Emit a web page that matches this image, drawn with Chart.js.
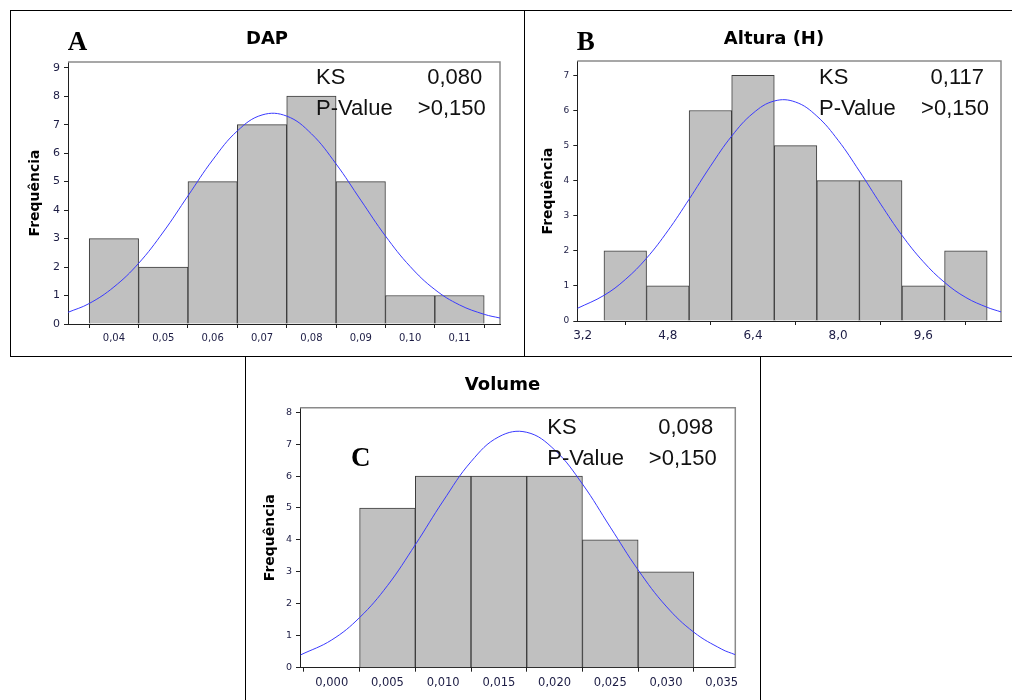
<!DOCTYPE html>
<html>
<head>
<meta charset="utf-8">
<title>Histogramas DAP, Altura e Volume</title>
<script src="https://cdn.jsdelivr.net/npm/chart.js@4.4.0/dist/chart.umd.min.js"></script>
<style>
  body { margin: 0; background: #fff; width: 1012px; height: 700px; overflow: hidden; position: relative; }
  .box { position: absolute; border: 1px solid #000; box-sizing: border-box; }
  canvas { position: absolute; }
</style>
</head>
<body>
<div class="box" style="left:10px;top:10px;width:515px;height:347px"></div>
<div class="box" style="left:524px;top:10px;width:500px;height:347px"></div>
<div class="box" style="left:245px;top:356px;width:516px;height:360px"></div>
<canvas id="histDAP" width="512" height="344" style="left:11px;top:11px"></canvas>
<canvas id="histAltura" width="498" height="344" style="left:525px;top:11px"></canvas>
<canvas id="histVolume" width="513" height="343" style="left:246px;top:357px"></canvas>
<script>
// A - DAP
const dapBins = [0.04, 0.05, 0.06, 0.07, 0.08, 0.09, 0.10, 0.11];
const dapCounts = [3, 2, 5, 7, 8, 5, 1, 1];
const dapCurveX = [0.0307, 0.035, 0.040, 0.045, 0.050, 0.055, 0.060, 0.065, 0.070, 0.075, 0.080, 0.085, 0.090, 0.095, 0.100, 0.105, 0.110, 0.115, 0.1182];
const dapCurveY = [0.41, 0.72, 1.30, 2.13, 3.23, 4.50, 5.76, 6.78, 7.34, 7.30, 6.68, 5.62, 4.35, 3.09, 2.02, 1.21, 0.67, 0.34, 0.21];
const dapXTicks = [0.04, 0.05, 0.06, 0.07, 0.08, 0.09, 0.10, 0.11];
const dapYTicks = [0, 1, 2, 3, 4, 5, 6, 7, 8, 9];
const dapStats = ['0,080', '>0,150'];

// B - Altura (H)
const alturaBins = [4.0, 4.8, 5.6, 6.4, 7.2, 8.0, 8.8, 9.6, 10.4];
const alturaCounts = [2, 1, 6, 7, 5, 4, 4, 1, 2];
const alturaCurveX = [3.1, 3.6, 4.0, 4.4, 4.8, 5.2, 5.6, 6.0, 6.4, 6.8, 7.2, 7.6, 8.0, 8.4, 8.8, 9.2, 9.6, 10.0, 10.4, 10.8, 11.06];
const alturaCurveY = [0.36, 0.73, 1.18, 1.79, 2.57, 3.47, 4.41, 5.27, 5.92, 6.27, 6.24, 5.84, 5.15, 4.27, 3.33, 2.44, 1.69, 1.10, 0.67, 0.39, 0.26];
const alturaXTicks = [3.2, 4.8, 6.4, 8.0, 9.6];
const alturaYTicks = [0, 1, 2, 3, 4, 5, 6, 7];
const alturaStats = ['0,117', '>0,150'];

// C - Volume
const volumeBins = [0.005, 0.010, 0.015, 0.020, 0.025, 0.030];
const volumeCounts = [5, 6, 6, 6, 4, 3];
const volumeCurveX = [-0.0028, 0.000, 0.0025, 0.005, 0.0075, 0.010, 0.0125, 0.015, 0.0175, 0.020, 0.0225, 0.025, 0.0275, 0.030, 0.0325, 0.035, 0.0362];
const volumeCurveY = [0.40, 0.87, 1.57, 2.57, 3.85, 5.22, 6.45, 7.23, 7.37, 6.82, 5.75, 4.40, 3.06, 1.93, 1.11, 0.58, 0.41];
const volumeXTicks = [0.000, 0.005, 0.010, 0.015, 0.020, 0.025, 0.030, 0.035];
const volumeYTicks = [0, 1, 2, 3, 4, 5, 6, 7, 8];
const volumeStats = ['0,098', '>0,150'];

const tickColor = '#1c1c44';
const axisColor = '#202020';

function histogram(id, o) {
    // gray frame on top and right of the plot area
    const frame = {
        id: 'frame',
        beforeDatasetsDraw(chart) {
            const a = chart.chartArea, ctx = chart.ctx;
            ctx.save();
            ctx.strokeStyle = '#8a8a8a';
            ctx.lineWidth = 1.5;
            ctx.beginPath();
            ctx.moveTo(a.left, a.top);
            ctx.lineTo(a.right, a.top);
            ctx.lineTo(a.right, a.bottom);
            ctx.stroke();
            ctx.restore();
        }
    };
    // panel title, letter and KS test box
    const notes = {
        id: 'notes',
        afterDraw(chart) {
            const ctx = chart.ctx;
            ctx.save();
            ctx.fillStyle = '#000';
            ctx.font = 'bold 18px "DejaVu Sans"';
            ctx.textAlign = 'center';
            ctx.textBaseline = 'middle';
            ctx.fillText(o.title, chart.width / 2, o.titleY);
            ctx.textBaseline = 'alphabetic';
            ctx.font = 'bold 27px "Liberation Serif"';
            ctx.textAlign = 'left';
            ctx.fillText(o.letter, o.letterPos[0], o.letterPos[1]);
            ctx.font = '22px "Liberation Sans"';
            ctx.fillStyle = '#111';
            ctx.fillText('KS', o.statsLeft, o.statsRows[0]);
            ctx.fillText('P-Value', o.statsLeft, o.statsRows[1]);
            ctx.textAlign = 'right';
            ctx.fillText(o.stats[0], o.statsRight[0], o.statsRows[0]);
            ctx.fillText(o.stats[1], o.statsRight[1], o.statsRows[1]);
            ctx.restore();
        }
    };

    new Chart(document.getElementById(id), {
        type: 'bar',
        data: {
            datasets: [{
                type: 'line',
                data: o.curveX.map((x, i) => ({ x: x, y: o.curveY[i] })),
                borderColor: '#3a3aff',
                borderWidth: 1,
                pointRadius: 0,
                tension: 0.4,
                order: 0
            }, {
                data: o.bins.map((x, i) => ({ x: x, y: o.counts[i] })),
                backgroundColor: '#c0c0c0',
                borderColor: '#3c3c3c',
                borderWidth: 1,
                barPercentage: 1,
                categoryPercentage: 1,
                order: 1
            }]
        },
        options: {
            responsive: false,
            animation: false,
            events: [],
            layout: { padding: o.padding },
            plugins: {
                legend: { display: false },
                tooltip: { enabled: false }
            },
            scales: {
                x: {
                    type: 'linear',
                    offset: false,
                    min: o.xRange[0],
                    max: o.xRange[1],
                    afterBuildTicks: (s) => { s.ticks = o.xTicks.map(v => ({ value: v })); },
                    afterFit: (s) => { s.height = 25; },
                    grid: { drawOnChartArea: false, drawTicks: true, tickLength: 4, color: axisColor },
                    border: { display: true, color: axisColor, width: 1 },
                    ticks: {
                        color: tickColor,
                        padding: 4,
                        maxRotation: 0,
                        font: { family: 'DejaVu Sans', size: o.xFont },
                        callback: (v) => Number(v).toFixed(o.decimals).replace('.', ',')
                    }
                },
                y: {
                    min: 0,
                    max: o.yMax,
                    afterBuildTicks: (s) => { s.ticks = o.yTicks.map(v => ({ value: v })); },
                    afterFit: (s) => { s.width = o.yWidth; },
                    grid: { drawOnChartArea: false, drawTicks: true, tickLength: 4, color: axisColor },
                    border: { display: true, color: axisColor, width: 1 },
                    ticks: {
                        color: tickColor,
                        padding: 4,
                        font: { family: 'DejaVu Sans', size: o.yFont },
                        callback: (v) => String(v)
                    },
                    title: {
                        display: true,
                        text: 'Frequência',
                        color: '#000',
                        font: { family: 'DejaVu Sans', size: 14, weight: 'bold' },
                        padding: { top: o.yTitlePad, bottom: 0 }
                    }
                }
            }
        },
        plugins: [frame, notes]
    });
}

window.addEventListener('load', () => {
    histogram('histDAP', {
        title: 'DAP', letter: 'A',
        bins: dapBins, counts: dapCounts, curveX: dapCurveX, curveY: dapCurveY,
        xTicks: dapXTicks, yTicks: dapYTicks, stats: dapStats,
        xRange: [0.0307, 0.1182], yMax: 9.2, decimals: 2,
        xFont: 10, yFont: 11, yWidth: 57, yTitlePad: 15.6,
        padding: { left: 0, right: 23, top: 51, bottom: 6 },
        titleY: 28,
        letterPos: [56.7, 39], statsLeft: 305, statsRows: [73, 104], statsRight: [471.3, 474.7]
    });

    histogram('histAltura', {
        title: 'Altura (H)', letter: 'B',
        bins: alturaBins, counts: alturaCounts, curveX: alturaCurveX, curveY: alturaCurveY,
        xTicks: alturaXTicks, yTicks: alturaYTicks, stats: alturaStats,
        xRange: [3.099, 11.06], yMax: 7.41, decimals: 1,
        xFont: 12, yFont: 9, yWidth: 52.3, yTitlePad: 14.9,
        padding: { left: 0, right: 22, top: 50, bottom: 9 },
        titleY: 28.3,
        letterPos: [51.7, 39], statsLeft: 294, statsRows: [73, 104], statsRight: [459, 464]
    });

    histogram('histVolume', {
        title: 'Volume', letter: 'C',
        bins: volumeBins, counts: volumeCounts, curveX: volumeCurveX, curveY: volumeCurveY,
        xTicks: volumeXTicks, yTicks: volumeYTicks, stats: volumeStats,
        xRange: [-0.00285, 0.03622], yMax: 8.14, decimals: 3,
        xFont: 11.5, yFont: 9.5, yWidth: 54, yTitlePad: 15.6,
        padding: { left: 0, right: 23.7, top: 50.7, bottom: 7.3 },
        titleY: 28,
        letterPos: [105, 109], statsLeft: 301.3, statsRows: [76.6, 108.2], statsRight: [467.3, 470.7]
    });
});
</script>
</body>
</html>
